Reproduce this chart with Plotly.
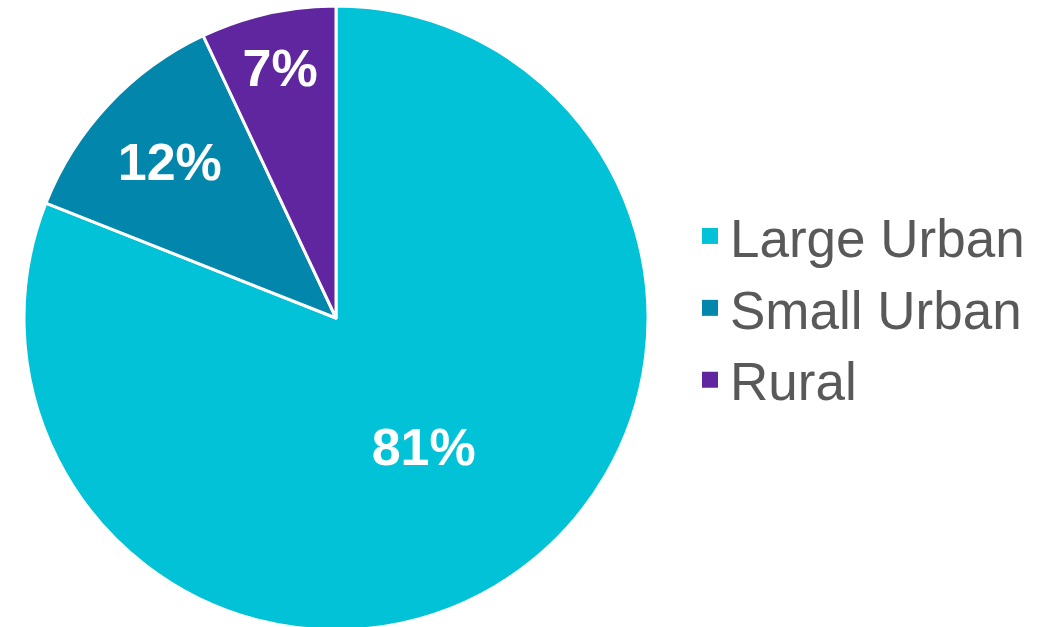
import plotly.graph_objects as go

categories = ["Large Urban", "Small Urban", "Rural"]
shares = [81, 12, 7]
colors = ["#02C2D7", "#0386AB", "#5F26A0"]

W, H = 1051, 636

fig = go.Figure()
fig.add_trace(
    go.Pie(
        labels=categories,
        values=shares,
        sort=False,
        direction="clockwise",
        rotation=0,
        marker=dict(colors=colors, line=dict(color="white", width=3)),
        texttemplate="%{value}%",
        textposition="inside",
        insidetextorientation="horizontal",
        textfont=dict(family="Liberation Sans, Arial", size=52, color="white", weight="bold"),
        hoverinfo="label+percent",
        domain=dict(x=[24 / W, 648 / W], y=[0, 1]),
        showlegend=False,
    )
)

# legend entries with larger square swatches
for name, col in zip(categories, colors):
    fig.add_trace(
        go.Scatter(
            x=[None],
            y=[None],
            mode="markers",
            name=name,
            marker=dict(symbol="square", size=16, color=col, line=dict(width=0)),
            hoverinfo="skip",
        )
    )

fig.update_layout(
    width=W,
    height=H,
    margin=dict(l=0, r=0, t=0, b=0),
    paper_bgcolor="white",
    plot_bgcolor="white",
    showlegend=True,
    xaxis=dict(visible=False),
    yaxis=dict(visible=False),
    legend=dict(
        x=690 / W,
        xanchor="left",
        y=1 - 308 / H,
        yanchor="middle",
        itemsizing="trace",
        font=dict(family="Liberation Sans, Arial", size=53, color="#595959"),
        bgcolor="rgba(0,0,0,0)",
    ),
)

fig.write_html("out.html", post_script="document.body.style.overflow='hidden';document.body.style.margin='0';")
